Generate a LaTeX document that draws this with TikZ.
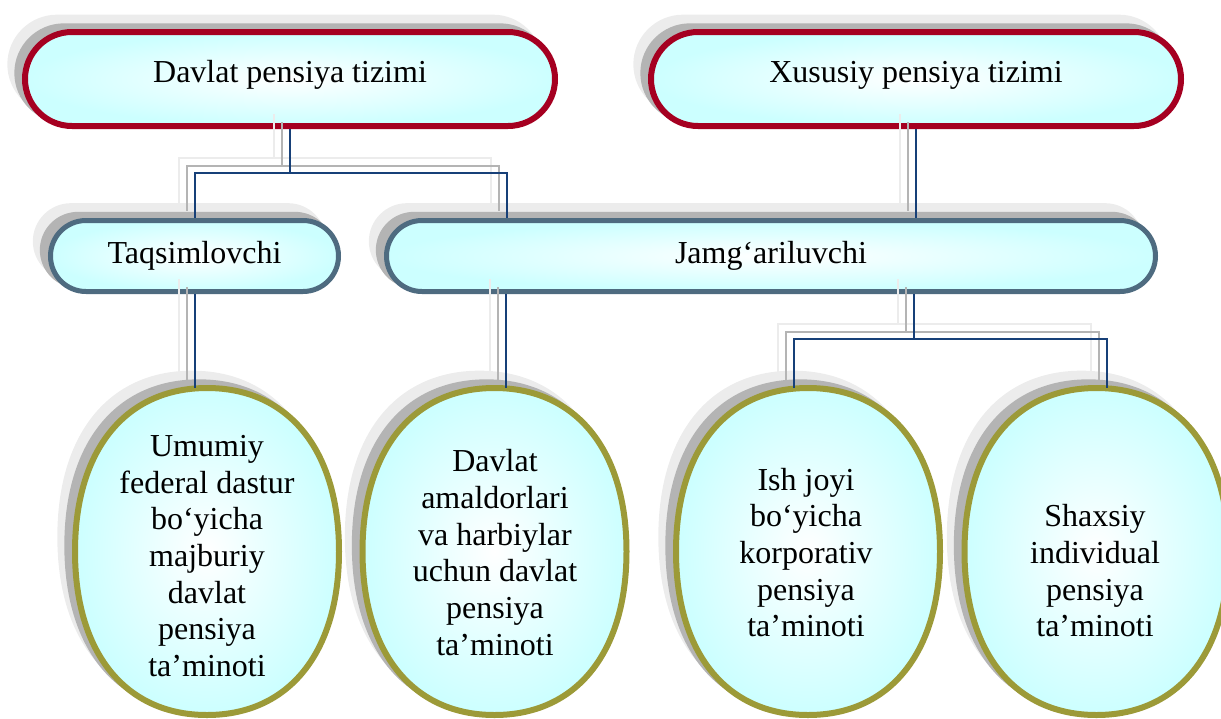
\documentclass[tikz,border=0pt]{standalone}
\usepackage{fontspec}
\setmainfont{Liberation Serif}
\usetikzlibrary{shapes.misc,shapes.geometric,shadows,calc}
\definecolor{redb}{RGB}{165,0,33}
\definecolor{slateb}{RGB}{78,107,128}
\definecolor{oliveb}{RGB}{156,154,56}
\definecolor{connb}{RGB}{23,64,120}
\definecolor{cyanf}{RGB}{204,255,255}
\definecolor{shA}{RGB}{180,180,180}
\definecolor{shB}{RGB}{236,236,236}
\tikzset{
  glowfill/.style={inner color=white, outer color=cyanf,
    general shadow={fill=shB, draw=shB, line width=4pt, shadow xshift=-11.25pt, shadow yshift=11pt},
    general shadow={fill=shA, draw=shA, line width=4pt, shadow xshift=-6pt, shadow yshift=4.5pt}},
  glowbox/.style={glowfill, font=\fontsize{24}{27.5}\selectfont, inner sep=0pt},
  topbox/.style={glowbox, rounded rectangle, draw=redb, line width=4.5pt,
    minimum width=397.5pt, minimum height=70.5pt, text height=16.4pt, text depth=11.9pt},
  midbox/.style={glowbox, rounded rectangle, draw=slateb, line width=3.75pt, minimum height=53.25pt},
  ovalframe/.style={ellipse, inner sep=0pt, outer sep=0pt, minimum width=198pt, minimum height=245.25pt},
  ovalline/.style={glowfill, draw=oliveb, line width=4.5pt},
  ovaltext/.style={font=\fontsize{24}{27.5}\selectfont, align=center, inner sep=0pt},
  conn/.style={draw=connb, line width=1.5pt},
  ghostA/.style={draw=shA, line width=1.5pt, transform canvas={xshift=-6pt,yshift=5.25pt}},
  ghostB/.style={draw=shB, line width=1.5pt, transform canvas={xshift=-12pt,yshift=11.25pt}},
}
% full oval drawn through the four anchors of a named frame node
\newcommand\fulloval[1]{%
  \path[ovalline] (#1.north) .. controls +(82,0) and +(0,-101) .. (#1.east)
    .. controls +(0,101) and +(82,0) .. (#1.south)
    .. controls +(-82,0) and +(0,101) .. (#1.west)
    .. controls +(0,-101) and +(-82,0) .. (#1.north) -- cycle;}
\newcommand\drawlinks[1]{%
  \draw[#1] (d.south) -- (b1) -| (tq.north);
  \draw[#1] (b1) -| (j.north -| c1);
  \draw[#1] (x.south) -- (x.south |- j.north);
  \draw[#1] (tq.south) -- (tq.south |- e1.north);
  \draw[#1] (j.south -| c2) -- (e2.north -| c2);
  \draw[#1] (j.south -| b2) -- (b2) -| (e3.north -| c3);
  \draw[#1] (b2) -| (e4.north -| c4);
}
\begin{document}
\begin{tikzpicture}[x=0.75pt,y=-0.75pt]
\useasboundingbox (0,0) rectangle (1221,718);
% top boxes
\node[topbox] (d) at (290,79) {Davlat pensiya tizimi};
\node[topbox] (x) at (916,79) {Xususiy pensiya tizimi};
% middle boxes
\node[midbox, minimum width=216pt] (tq) at (194.5,256) {Taqsimlovchi};
\node[midbox, minimum width=576.75pt] (j) at (771,256) {Jamg‘ariluvchi};
% ovals
\node[ovalframe] (e1) at (207,551.5) {};
\node[ovalframe] (e2) at (494.5,551.5) {};
\node[ovalframe] (e3) at (808,551.5) {};
\node[ovalframe] (e4) at (1096.5,551.5) {};
\fulloval{e1}
\fulloval{e2}
\fulloval{e3}
\fulloval{e4}
\node[ovaltext] (te1) at (207,556) {Umumiy\\federal dastur\\bo‘yicha\\majburiy\\davlat\\pensiya\\ta’minoti};
\node[ovaltext] (te2) at (495,552.5) {Davlat\\amaldorlari\\va harbiylar\\uchun davlat\\pensiya\\ta’minoti};
\node[ovaltext] (te3) at (806,552.5) {Ish joyi\\bo‘yicha\\korporativ\\pensiya\\ta’minoti};
\node[ovaltext] (te4) at (1095,571) {Shaxsiy\\individual\\pensiya\\ta’minoti};
% junctions and connector columns
\coordinate (b1) at (290,173);
\coordinate (c1) at (507,0);
\coordinate (c2) at (506,0);
\coordinate (b2) at (914,339);
\coordinate (c3) at (794,0);
\coordinate (c4) at (1107,0);
\drawlinks{ghostB}
\drawlinks{ghostA}
\drawlinks{conn}
\end{tikzpicture}
\end{document}
